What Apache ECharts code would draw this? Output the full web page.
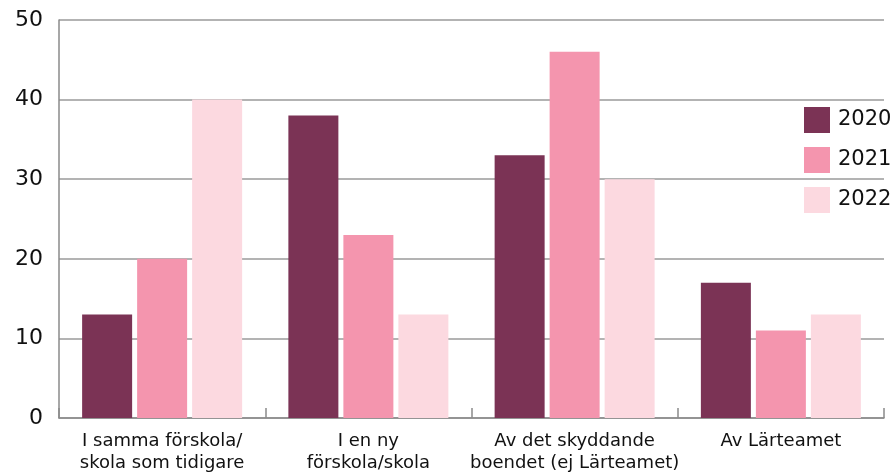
<!DOCTYPE html>
<html>
<head>
<meta charset="utf-8">
<script src="https://cdn.jsdelivr.net/npm/echarts@6/dist/echarts.min.js"></script>
<style>
  html, body { margin: 0; padding: 0; background: #fff; }
  #chart { width: 895px; height: 475px; }
</style>
</head>
<body>
<div id="chart"></div>
<script>
// Kategorier och värden
const kategorier = [
    'I samma förskola/\nskola som tidigare',
    'I en ny\nförskola/skola',
    'Av det skyddande\nboendet (ej Lärteamet)',
    'Av Lärteamet'
];
const serieNamn = ['2020', '2021', '2022'];
const varden2020 = [13, 38, 33, 17];
const varden2021 = [20, 23, 46, 11];
const varden2022 = [40, 13, 30, 13];
const farger = ['#7b3355', '#f495ae', '#fcd9e0'];

const typsnitt = 'DejaVu Sans';

const getOption = () => {
    const data = [varden2020, varden2021, varden2022];
    return {
        animation: false,
        grid: {
            left: 59,
            right: 11,
            top: 20,
            bottom: 57
        },
        legend: {
            orient: 'vertical',
            left: 799,
            top: 102,
            itemWidth: 26,
            itemHeight: 26,
            itemGap: 14,
            icon: 'rect',
            textStyle: {
                fontFamily: typsnitt,
                fontSize: 21,
                color: '#111',
                padding: [0, 0, 0, 3]
            },
            data: serieNamn
        },
        xAxis: {
            type: 'category',
            data: kategorier,
            axisLine: { lineStyle: { color: '#8a8a8a', width: 1.5 } },
            axisTick: {
                show: true,
                inside: true,
                length: 10,
                lineStyle: { color: '#8a8a8a', width: 1.5 }
            },
            axisLabel: {
                fontFamily: typsnitt,
                fontSize: 18,
                color: '#111',
                lineHeight: 22,
                margin: 12,
                interval: 0
            }
        },
        yAxis: {
            type: 'value',
            min: 0,
            max: 50,
            interval: 10,
            axisLine: { show: true, lineStyle: { color: '#8a8a8a', width: 1.5 } },
            axisTick: { show: false },
            splitLine: { lineStyle: { color: '#9a9a9a', width: 1.5 } },
            axisLabel: {
                fontFamily: typsnitt,
                fontSize: 22,
                color: '#111',
                margin: 16
            }
        },
        series: serieNamn.map((namn, i) => ({
            name: namn,
            type: 'bar',
            data: data[i],
            barWidth: 50,
            barGap: '10%',
            itemStyle: { color: farger[i], borderWidth: 0 }
        }))
    };
};

const chart = echarts.init(document.getElementById('chart'));
chart.setOption(getOption());
</script>
</body>
</html>
